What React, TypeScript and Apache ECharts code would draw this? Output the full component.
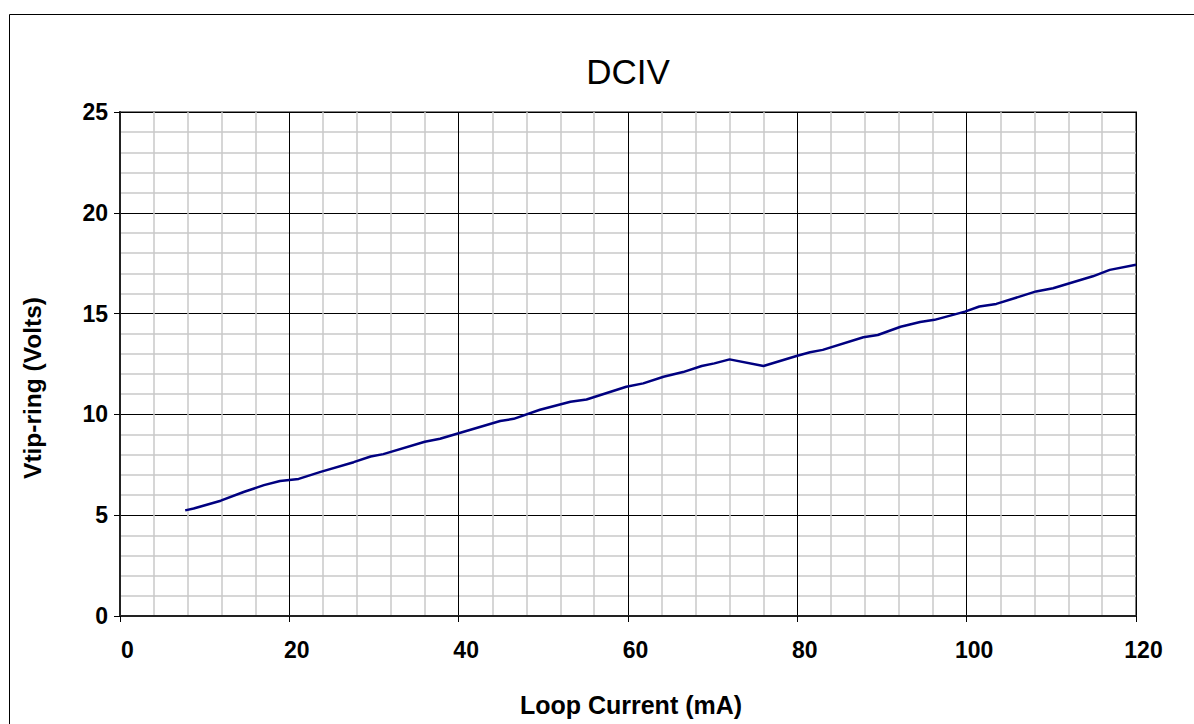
import React, { useEffect, useRef } from "react";
import * as echarts from "echarts";

const loopCurrent = [7.7, 8.7, 11.9, 14.6, 17.0, 18.9, 21.1, 23.7, 27.6, 29.6, 31.1, 36.0, 37.8, 40.2, 44.9, 46.5, 49.6, 53.2, 55.1, 59.8, 61.8, 64.2, 66.5, 68.7, 70.2, 72.0, 76.0, 79.9, 81.5, 83.0, 87.8, 89.5, 92.2, 94.5, 96.2, 99.8, 101.5, 103.5, 108.2, 110.2, 114.9, 116.9, 120];
const vtipRing = [5.24, 5.33, 5.72, 6.15, 6.49, 6.7, 6.8, 7.15, 7.63, 7.91, 8.03, 8.64, 8.79, 9.09, 9.67, 9.78, 10.23, 10.63, 10.74, 11.37, 11.54, 11.87, 12.1, 12.4, 12.53, 12.73, 12.4, 12.9, 13.08, 13.2, 13.83, 13.94, 14.35, 14.58, 14.69, 15.1, 15.35, 15.48, 16.1, 16.26, 16.85, 17.17, 17.42];

const titleText = "DCIV";
const xName = "Loop Current (mA)";
const yName = "Vtip-ring (Volts)";

export default function App() {
  const ref = useRef<HTMLDivElement>(null);
  useEffect(() => {
    if (!ref.current) return;
    const chart = echarts.init(ref.current, null, { renderer: "svg" });
    const font = "'Liberation Sans', Arial, sans-serif";
    chart.setOption({
      animation: false,
      backgroundColor: "#ffffff",
      title: {
        text: titleText,
        left: 623,
        textAlign: "center",
        top: 49,
        textStyle: { fontFamily: font, fontSize: 35, fontWeight: "normal", color: "#000" },
      },
      grid: {
        left: 120,
        right: 58,
        top: 112,
        bottom: 108,
        show: true,
        borderColor: "#808080",
        borderWidth: 2,
        backgroundColor: "transparent",
      },
      xAxis: {
        type: "value",
        min: 0,
        max: 120,
        interval: 20,
        axisLine: { show: true, onZero: false, lineStyle: { color: "#222", width: 2 } },
        axisTick: { show: true, length: 6, lineStyle: { color: "#000" } },
        axisLabel: {
          fontFamily: font,
          fontSize: 23,
          fontWeight: "bold",
          color: "#000",
          margin: 22,
          padding: [0, 0, 0, 15],
        },
        splitLine: { show: true, lineStyle: { color: "#000", width: 1 } },
        minorTick: { show: false, splitNumber: 5 },
        minorSplitLine: { show: true, lineStyle: { color: "#c8c8c8", width: 1.5 } },
      },
      yAxis: {
        type: "value",
        min: 0,
        max: 25,
        interval: 5,
        axisLine: { show: true, onZero: false, lineStyle: { color: "#222", width: 2 } },
        axisTick: { show: true, length: 6, lineStyle: { color: "#000" } },
        axisLabel: {
          fontFamily: font,
          fontSize: 23,
          fontWeight: "bold",
          color: "#000",
          margin: 12,
        },
        splitLine: { show: true, lineStyle: { color: "#000", width: 1 } },
        minorTick: { show: false, splitNumber: 5 },
        minorSplitLine: { show: true, lineStyle: { color: "#c8c8c8", width: 1.5 } },
      },
      series: [
        {
          type: "line",
          data: loopCurrent.map((x, i) => [x, vtipRing[i]]),
          showSymbol: false,
          symbol: "none",
          lineStyle: { color: "#000080", width: 2.5 },
          smooth: false,
        },
      ],
      graphic: [
        {
          type: "rect",
          shape: { x: 9.5, y: 14.5, width: 1300, height: 800 },
          style: { fill: "none", stroke: "#000", lineWidth: 1 },
          silent: true,
        },
        {
          type: "text",
          x: 631,
          y: 705,
          style: {
            text: xName,
            font: `bold 25px ${font}`,
            fill: "#000",
            textAlign: "center",
            textVerticalAlign: "middle",
          },
        },
        {
          type: "text",
          x: 32,
          y: 388,
          rotation: Math.PI / 2,
          style: {
            text: yName,
            font: `bold 24.5px ${font}`,
            fill: "#000",
            textAlign: "center",
            textVerticalAlign: "middle",
          },
        },
      ],
    });
    return () => chart.dispose();
  }, []);
  return (
    <div
      ref={ref}
      style={{ position: "fixed", left: 0, top: 0, width: 1194, height: 724 }}
    />
  );
}
